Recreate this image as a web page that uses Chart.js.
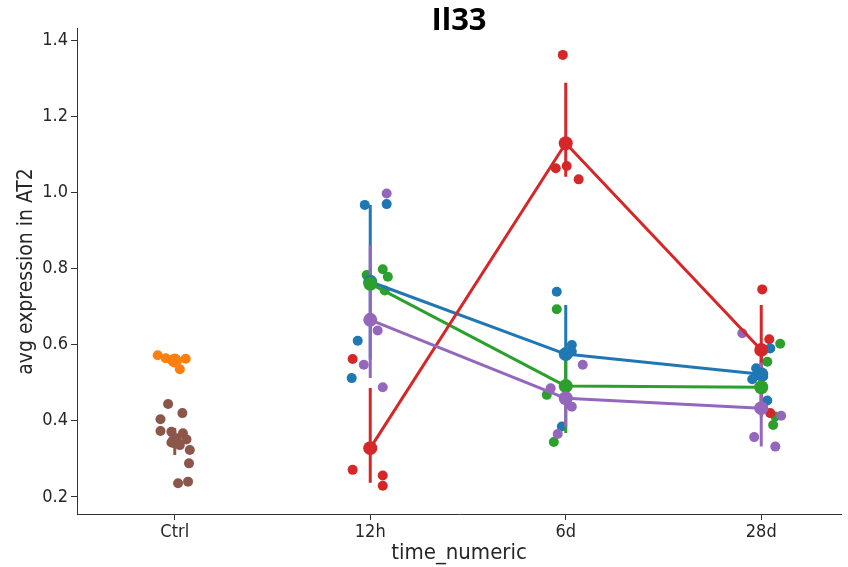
<!DOCTYPE html>
<html><head><meta charset="utf-8">
<script src="https://cdn.jsdelivr.net/npm/chart.js@4/dist/chart.umd.min.js"></script>
<style>html,body{margin:0;padding:0;background:#fff}#wrap{width:848px;height:567px}</style>
</head><body><div id="wrap"><canvas id="c" width="848" height="567"></canvas></div>
<script>
// ---- data ----
const categories = ['Ctrl', '12h', '6d', '28d'];
const yTicks = [0.2, 0.4, 0.6, 0.8, 1.0, 1.2, 1.4];

// individual samples per category (Ctrl, 12h, 6d, 28d)
const blueValues   = [[], [0.967, 0.969, 0.610, 0.512], [0.739, 0.599, 0.582, 0.385], [0.590, 0.538, 0.509, 0.516, 0.453]];
const blueJitter   = [[], [-0.028, 0.084, -0.064, -0.095], [-0.046, 0.031, 0.031, -0.020], [0.046, -0.026, -0.046, 0.010, 0.031]];
const orangeValues = [[0.572, 0.564, 0.559, 0.556, 0.563, 0.535], [], [], []];
const orangeJitter = [[-0.087, -0.046, -0.015, 0.010, 0.056, 0.026], [], [], []];
const greenValues  = [[], [0.783, 0.798, 0.778, 0.742, 0.765], [0.693, 0.468, 0.344], [0.602, 0.555, 0.411, 0.389]];
const greenJitter  = [[], [-0.018, 0.064, 0.090, 0.074, 0.000], [-0.046, -0.097, -0.061], [0.097, 0.031, 0.072, 0.061]];
const redValues    = [[], [0.562, 0.271, 0.256, 0.229], [1.361, 1.063, 1.069, 1.034], [0.745, 0.614, 0.420]];
const redJitter    = [[], [-0.090, -0.090, 0.064, 0.064], [-0.015, -0.051, 0.005, 0.066], [0.005, 0.041, 0.046]];
const purpleValues = [[], [0.997, 0.637, 0.547, 0.488], [0.547, 0.485, 0.437, 0.365], [0.630, 0.413, 0.357, 0.332]];
const purpleJitter = [[], [0.084, 0.038, -0.033, 0.064], [0.087, -0.077, 0.031, -0.041], [-0.097, 0.102, -0.036, 0.072]];
const brownValues  = [[0.444, 0.420, 0.404, 0.373, 0.371, 0.367, 0.354, 0.351, 0.343, 0.336, 0.323, 0.288, 0.236, 0.240], [], [], []];
const brownJitter  = [[-0.034, 0.039, -0.073, -0.073, -0.017, 0.042, 0.009, 0.060, -0.017, 0.026, 0.077, 0.073, 0.017, 0.068], [], [], []];

// group means (point estimates) per category
const blueMean   = [null, 0.765, 0.575, 0.522];
const orangeMean = [0.558, null, null, null];
const greenMean  = [null, 0.760, 0.491, 0.488];
const redMean    = [null, 0.328, 1.129, 0.586];
const purpleMean = [null, 0.665, 0.459, 0.433];
const brownMean  = [0.346, null, null, null];

// confidence interval bounds per category
const blueLow    = [null, 0.560, 0.450, 0.490];
const blueHigh   = [null, 0.967, 0.704, 0.560];
const orangeLow  = [0.545, null, null, null];
const orangeHigh = [0.567, null, null, null];
const greenLow   = [null, 0.745, 0.368, 0.410];
const greenHigh  = [null, 0.790, 0.570, 0.570];
const redLow     = [null, 0.237, 1.041, 0.450];
const redHigh    = [null, 0.486, 1.288, 0.704];
const purpleLow  = [null, 0.512, 0.384, 0.332];
const purpleHigh = [null, 0.862, 0.500, 0.552];
const brownLow   = [0.310, null, null, null];
const brownHigh  = [0.381, null, null, null];

// ---- styling ----
const C = {blue:'#1f77b4', orange:'#ff7f0e', green:'#2ca02c', red:'#d62728', purple:'#9467bd', brown:'#8c564b'};
const tickFont = {family:"'Liberation Sans Narrow','DejaVu Sans Condensed','DejaVu Sans'", size:18};
const yTitleFont = {family:"'Liberation Sans Narrow','DejaVu Sans Condensed','DejaVu Sans'", size:21};
const xTitleFont = {family:"'Liberation Sans Narrow','DejaVu Sans Condensed','DejaVu Sans'", size:22};

function strip(color, values, jitter, order) {
  const data = [];
  values.forEach((arr, i) => arr.forEach((v, k) => data.push({x: i + jitter[i][k], y: v})));
  return {type:'scatter', data, order, backgroundColor: color, borderWidth: 0, pointRadius: 5, pointHoverRadius: 5, showLine: false};
}
function joinLine(color, means, order) {
  const data = [];
  means.forEach((m, i) => { if (m !== null) data.push({x: i, y: m}); });
  return {type:'line', data, order, borderColor: color, borderWidth: 3, pointRadius: 0, fill: false, tension: 0, borderJoinStyle:'round'};
}
function marks(color, means, order) {
  const data = [];
  means.forEach((m, i) => { if (m !== null) data.push({x: i, y: m}); });
  return {type:'scatter', data, order, backgroundColor: color, borderWidth: 0, pointRadius: 7, pointHoverRadius: 7, showLine: false};
}
function ci(color, lo, hi, order) {
  const data = [];
  lo.forEach((l, i) => { if (l !== null) { data.push({x: i, y: l}, {x: i, y: hi[i]}, {x: i + 0.5, y: null}); } });
  return {type:'line', data, order, borderColor: color, borderWidth: 3, pointRadius: 0, fill: false, spanGaps: false, borderCapStyle:'butt'};
}

const datasets = [
  strip(C.blue, blueValues, blueJitter, 100),
  strip(C.orange, orangeValues, orangeJitter, 99),
  strip(C.green, greenValues, greenJitter, 98),
  strip(C.red, redValues, redJitter, 97),
  strip(C.purple, purpleValues, purpleJitter, 96),
  strip(C.brown, brownValues, brownJitter, 95),
  joinLine(C.blue, blueMean, 80), ci(C.blue, blueLow, blueHigh, 79),
  ci(C.orange, orangeLow, orangeHigh, 78),
  joinLine(C.green, greenMean, 77), ci(C.green, greenLow, greenHigh, 76),
  joinLine(C.red, redMean, 75), ci(C.red, redLow, redHigh, 74),
  joinLine(C.purple, purpleMean, 73), ci(C.purple, purpleLow, purpleHigh, 72),
  ci(C.brown, brownLow, brownHigh, 71),
  marks(C.blue, blueMean, 10), marks(C.orange, orangeMean, 9), marks(C.green, greenMean, 8),
  marks(C.red, redMean, 7), marks(C.purple, purpleMean, 6), marks(C.brown, brownMean, 5)
];

new Chart(document.getElementById('c'), {
  type: 'scatter',
  data: { datasets },
  options: {
    responsive: false, animation: false, devicePixelRatio: 1,
    layout: { padding: {top: 0, left: 0, right: 0, bottom: 0} },
    plugins: {
      legend: {display: false}, tooltip: {enabled: false},
      title: {display: true, text: 'Il33', color: '#000', fullSize: false,
        font: {family: "'Open Sans','Noto Sans','DejaVu Sans'", size: 31, weight: 'bold', lineHeight: 0.516},
        padding: {top: 13, bottom: 0}}
    },
    scales: {
      x: {
        type: 'linear', min: -0.5, max: 3.408,
        afterBuildTicks: s => { s.ticks = categories.map((c, i) => ({value: i})); },
        afterFit: s => { s.height = 53; },
        ticks: {callback: v => categories[v], font: tickFont, color: '#262626', padding: 2, maxRotation: 0, autoSkip: false},
        grid: {drawOnChartArea: false, drawTicks: true, tickLength: 6, tickColor: '#333', tickWidth: 1},
        border: {display: true, color: '#333', width: 1},
        title: {display: true, text: 'time_numeric', color: '#262626', font: xTitleFont, padding: {top: 0, bottom: 1}}
      },
      y: {
        type: 'linear', min: 0.155, max: 1.429,
        afterBuildTicks: s => { s.ticks = yTicks.map(v => ({value: v})); },
        afterFit: s => { s.width = 77; },
        ticks: {callback: v => Number(v).toFixed(1), font: tickFont, color: '#262626', padding: 3},
        grid: {drawOnChartArea: false, drawTicks: true, tickLength: 6, tickColor: '#333', tickWidth: 1},
        border: {display: true, color: '#333', width: 1},
        title: {display: true, text: 'avg expression in AT2', color: '#262626', font: yTitleFont, padding: {top: 14, bottom: 0}}
      }
    }
  }
});
</script></body></html>
